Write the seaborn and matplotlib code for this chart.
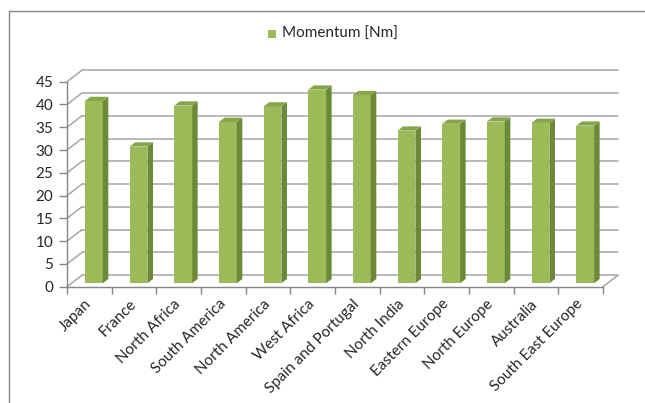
import matplotlib
matplotlib.use("Agg")
import matplotlib.pyplot as plt
from matplotlib.patches import Polygon, Rectangle
from matplotlib.lines import Line2D
from matplotlib.transforms import Affine2D
import seaborn as sns
import pandas as pd

regions = ["Japan", "France", "North Africa", "South America", "North America",
           "West Africa", "Spain and Portugal", "North India", "Eastern Europe",
           "North Europe", "Australia", "South East Europe"]
momentum = [40.0, 30.0, 39.0, 35.4, 38.8, 42.5, 41.3, 33.5, 35.0, 35.5, 35.2, 34.6]
y_ticks = [0, 5, 10, 15, 20, 25, 30, 35, 40, 45]
series_name = "Momentum [Nm]"

front = "#9BBB59"
side = "#6B8A38"
top = "#86A64A"
grid_col = "#A6A6A6"
axis_col = "#868686"
text_col = "#262626"

sns.set_style("white")
plt.rcParams["font.family"] = ["Lato", "DejaVu Sans"]

fig = plt.figure(figsize=(6.45, 4.03), dpi=100)
ax = fig.add_axes([67 / 645, 1 - 286.7 / 403, 536 / 645, 205 / 403])
ax.set_facecolor("none")

df = pd.DataFrame({"region": regions, "value": momentum})
sns.barplot(data=df, x="region", y="value", color=front, width=0.4,
            saturation=1, ax=ax, zorder=3)

ax.set_xlim(-0.5, len(regions) - 0.5)
ax.set_ylim(0, 45)

# depth of the 3D box in data units (back wall offset)
ddx = 15 / (536 / len(regions))
ddy = 11.5 / (205 / 45)
f0, f1 = 0.30, 0.67
xl, xr = -0.5, len(regions) - 0.5

# back wall gridlines and left wall slants
for v in y_ticks:
    ax.add_line(Line2D([xl + ddx, xr + ddx], [v + ddy, v + ddy], color=grid_col,
                       lw=1.1, zorder=1, clip_on=False))
    ax.add_line(Line2D([xl, xl + ddx], [v, v + ddy], color=grid_col,
                       lw=1.1, zorder=1, clip_on=False))
# floor right edge
ax.add_line(Line2D([xr, xr + ddx], [0, ddy], color=grid_col, lw=1.1,
                   zorder=1, clip_on=False))

# extrude the bars: shift front face, add side and top faces
for p in ax.patches[:]:
    x0 = p.get_x()
    w = p.get_width()
    h = p.get_height()
    p.set_transform(Affine2D().translate(f0 * ddx, f0 * ddy) + ax.transData)
    p.set_clip_on(False)
    p.set_edgecolor("none")
    bx = x0 + f0 * ddx
    by = f0 * ddy
    dx = (f1 - f0) * ddx
    dy = (f1 - f0) * ddy
    ax.add_patch(Polygon([(bx + w, by), (bx + w, by + h), (bx + w + dx, by + h + dy),
                          (bx + w + dx, by + dy)], closed=True, facecolor=side,
                         edgecolor="none", zorder=3, clip_on=False))
    ax.add_patch(Polygon([(bx, by + h), (bx + w, by + h), (bx + w + dx, by + h + dy),
                          (bx + dx, by + h + dy)], closed=True, facecolor=top,
                         edgecolor="none", zorder=3, clip_on=False))

# axes styling
for s in ["top", "right"]:
    ax.spines[s].set_visible(False)
for s in ["left", "bottom"]:
    ax.spines[s].set_color(axis_col)
    ax.spines[s].set_linewidth(1.0)
ax.set_yticks(y_ticks)
ax.set_yticklabels([str(v) for v in y_ticks])
ax.tick_params(axis="y", left=True, length=6, width=1, color=axis_col,
               labelsize=11, labelcolor=text_col, pad=4)
ax.set_xticks(range(len(regions)))
ax.set_xticklabels(regions, rotation=45, ha="right", va="center",
                   rotation_mode="anchor")
ax.tick_params(axis="x", which="major", bottom=False, length=0,
               labelsize=11, labelcolor=text_col, pad=11)
ax.set_xticks([i - 0.5 for i in range(len(regions) + 1)], minor=True)
ax.tick_params(axis="x", which="minor", bottom=True, length=5, width=1,
               color=axis_col)
ax.set_xlabel("")
ax.set_ylabel("")
ax.grid(False)

# legend entry above the plot
fig.patches.append(Rectangle((268 / 645, 1 - 38 / 403), 8 / 645, 8 / 403,
                             transform=fig.transFigure, facecolor=front,
                             edgecolor="none"))
fig.text(282 / 645, 1 - 34 / 403, series_name, fontsize=11, color=text_col,
         va="center", ha="left")

# chart area border
fig.add_artist(Line2D([9 / 645, 9 / 645], [0, 1 - 11 / 403], color=axis_col,
                      lw=1, transform=fig.transFigure))
fig.add_artist(Line2D([9 / 645, 1], [1 - 11 / 403, 1 - 11 / 403], color=axis_col,
                      lw=1, transform=fig.transFigure))

fig.savefig("out.png", dpi=100)
